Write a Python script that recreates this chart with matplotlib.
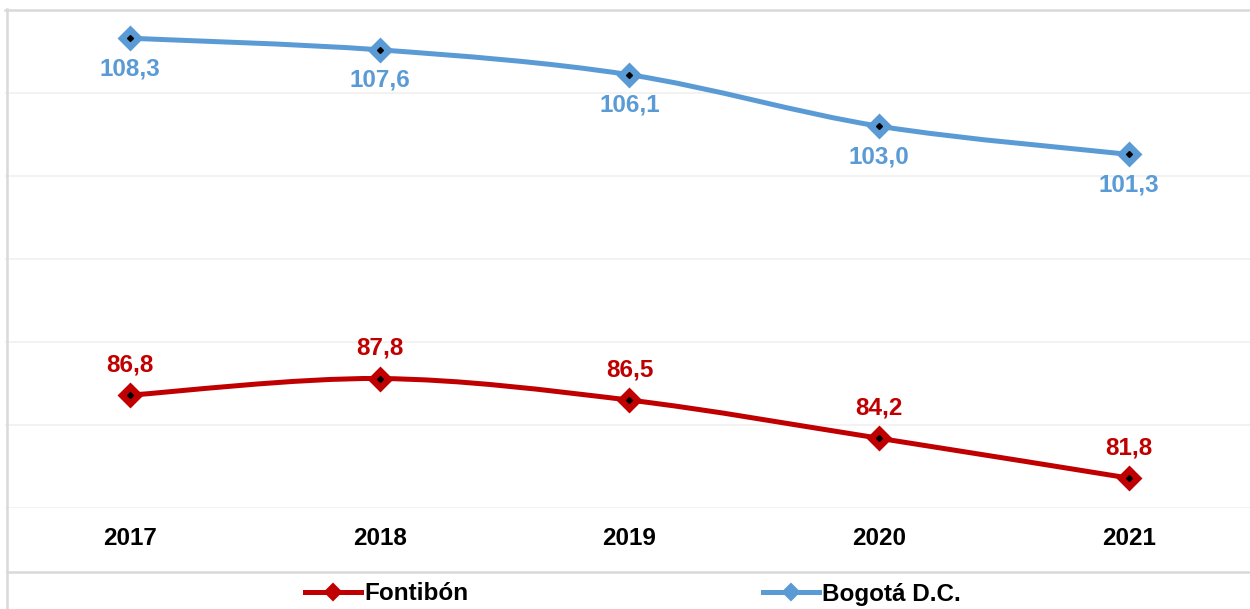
from matplotlib import pyplot as plt
from matplotlib.path import Path
from matplotlib.patches import PathPatch
from matplotlib.lines import Line2D
import numpy as np

years = ['2017', '2018', '2019', '2020', '2021']
fontibon = [86.8, 87.8, 86.5, 84.2, 81.8]
bogota = [108.3, 107.6, 106.1, 103.0, 101.3]

red = '#C00000'
blue = '#5B9BD5'

plt.rcParams['font.family'] = ['Liberation Sans', 'DejaVu Sans']


def smooth_path(x, y):
    # Bezier through the points, similar to Excel "smoothed line"
    pts = np.column_stack([x, y]).astype(float)
    n = len(pts)
    verts = [pts[0]]
    codes = [Path.MOVETO]
    for i in range(n - 1):
        p_prev = pts[i - 1] if i > 0 else pts[i]
        p_next2 = pts[i + 2] if i + 2 < n else pts[i + 1]
        c1 = pts[i] + (pts[i + 1] - p_prev) / 6
        c2 = pts[i + 1] - (p_next2 - pts[i]) / 6
        verts += [c1, c2, pts[i + 1]]
        codes += [Path.CURVE4] * 3
    return Path(verts, codes)


fig = plt.figure(figsize=(12.5, 6.09), dpi=100)
W, H = 1250, 609
ax = fig.add_axes([5 / W, 1 - 508 / H, 1249 / W, 498 / H])

x = np.arange(len(years))
for vals, col, off in [(fontibon, red, 22), (bogota, blue, -22)]:
    ax.add_patch(PathPatch(smooth_path(x, vals), facecolor='none', edgecolor=col,
                           lw=3.6, capstyle='round', joinstyle='round', zorder=3))
    ax.plot(x, vals, ls='none', marker='D', markersize=11.5, color=col,
            markeredgewidth=2, markeredgecolor=col, zorder=4)
    ax.plot(x, vals, ls='none', marker='D', markersize=3, color='black', zorder=5)
    for xi, v in zip(x, vals):
        ax.annotate(f'{v:.1f}'.replace('.', ','), (xi, v), xytext=(0, off),
                    textcoords='offset points', ha='center', va='center',
                    fontsize=17.5, fontweight='bold', color=col, zorder=6)

ax.set_xlim(-0.5, len(years) - 0.5)
ax.set_ylim(80, 110)
ax.set_yticks(np.arange(80, 111, 5))
ax.yaxis.grid(True, color='#f0f0f0', lw=1.2)
ax.set_axisbelow(True)
ax.tick_params(axis='y', left=False, labelleft=False)
ax.set_xticks(x)
ax.set_xticklabels(years, fontsize=17.5, fontweight='bold')
ax.tick_params(axis='x', length=0, pad=14)
for s in ['left', 'right', 'bottom']:
    ax.spines[s].set_visible(False)
ax.spines['top'].set_color('#d9d9d9')
ax.spines['top'].set_linewidth(1.8)

# outer borders
fig.add_artist(Line2D([7 / W, 7 / W], [0, 1 - 9 / H], color='#d9d9d9', lw=1.8))
fig.add_artist(Line2D([7 / W, 1], [1 - 572 / H, 1 - 572 / H], color='#d9d9d9', lw=1.8))

handles = [Line2D([], [], color=red, lw=3.6, marker='D', markersize=8.5, markeredgewidth=1.5),
           Line2D([], [], color=blue, lw=3.6, marker='D', markersize=8.5, markeredgewidth=1.5)]
leg = fig.legend(handles, ['Fontibón', 'Bogotá D.C.'], loc='center left',
                 bbox_to_anchor=(305 / W, 1 - 594 / H), ncol=2, frameon=False,
                 prop={'size': 17.5, 'weight': 'bold'}, handlelength=2.3,
                 handletextpad=0.15, columnspacing=12.1, borderpad=0, borderaxespad=0)

fig.savefig('out.png', dpi=100)
